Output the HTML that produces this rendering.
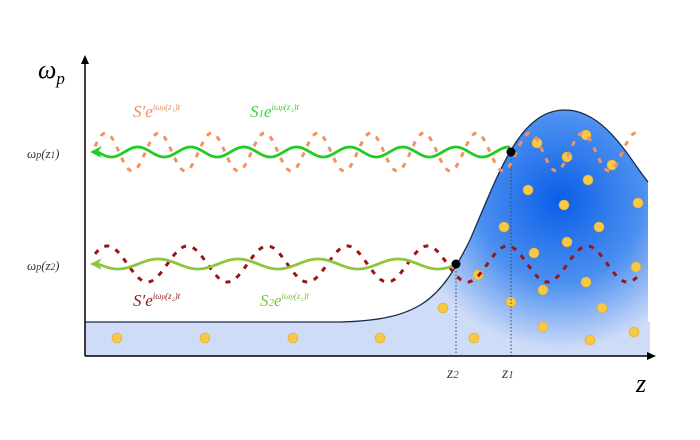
<!DOCTYPE html>
<html><head><meta charset="utf-8"><style>body{margin:0;background:#fff}svg{display:block}text{font-family:"Liberation Serif",serif;font-style:italic}</style></head>
<body>
<svg width="700" height="440" viewBox="0 0 700 440">
<defs>
<radialGradient id="g" cx="560" cy="200" r="150" gradientUnits="userSpaceOnUse">
<stop offset="0" stop-color="#0a5ee8"/><stop offset="0.55" stop-color="#4b8ff0"/><stop offset="1" stop-color="#cfdcf8"/></radialGradient>
</defs>
<path d="M85 322 H650 V356 H85Z" fill="#cfdcf8"/>
<path d="M85 322 L340 322 C420 320 440 300 470 240 C500 170 520 110 565 110 C605 110 630 160 648 182 L648 356 L85 356Z" fill="url(#g)"/>
<path d="M85 322 L340 322 C420 320 440 300 470 240 C500 170 520 110 565 110 C605 110 630 160 648 182" fill="none" stroke="#1a2a4a" stroke-width="1.3"/>
<g id="dots"></g>
<line x1="511" y1="152" x2="511" y2="356" stroke="#444" stroke-dasharray="1.5 2"/>
<line x1="456" y1="264" x2="456" y2="356" stroke="#444" stroke-dasharray="1.5 2"/>
<g id="waves"></g>
<circle cx="511" cy="152" r="4.5" fill="#000"/>
<circle cx="456" cy="264" r="4.5" fill="#000"/>
<line x1="85" y1="356" x2="650" y2="356" stroke="#000" stroke-width="1.5"/>
<path d="M656 356 L647 352 L647 360Z" fill="#000"/>
<line x1="85" y1="356" x2="85" y2="62" stroke="#000" stroke-width="1.5"/>
<path d="M85 55 L81 64 L89 64Z" fill="#000"/>
<text x="38" y="78" font-size="26">ω<tspan font-size="17" dy="6">p</tspan></text>
<text x="636" y="392" font-size="26">z</text>
<text x="27" y="158" font-size="13" fill="#333">ω<tspan font-size="10">p</tspan>(z<tspan font-size="9">1</tspan>)</text>
<text x="27" y="270" font-size="13" fill="#333">ω<tspan font-size="10">p</tspan>(z<tspan font-size="9">2</tspan>)</text>
<text x="447" y="378" font-size="16" fill="#444">z<tspan font-size="11">2</tspan></text>
<text x="502" y="378" font-size="16" fill="#444">z<tspan font-size="11">1</tspan></text>
<text x="133" y="117" font-size="17" fill="#f08a5d">S′e<tspan font-size="9" dy="-7">iω<tspan font-size="7">p</tspan>(z₁)t</tspan></text>
<text x="250" y="117" font-size="17" fill="#3fcf3f">S<tspan font-size="11">1</tspan>e<tspan font-size="9" dy="-7">iω<tspan font-size="7">p</tspan>(z₁)t</tspan></text>
<text x="133" y="306" font-size="17" fill="#8b1a1a">S′e<tspan font-size="9" dy="-7">iω<tspan font-size="7">p</tspan>(z₂)t</tspan></text>
<text x="260" y="306" font-size="17" fill="#7cc43a">S<tspan font-size="11">2</tspan>e<tspan font-size="9" dy="-7">iω<tspan font-size="7">p</tspan>(z₂)t</tspan></text>
</svg>
<script>
const NS="http://www.w3.org/2000/svg";
const dotsX=[117,205,293,380,537,586,567,612,588,528,564,638,504,599,567,534,478,586,636,543,511,443,602,543,474,590,634];
const dotsY=[338,338,338,338,143,135,157,165,180,190,205,203,227,227,242,253,275,282,267,290,302,308,308,327,338,340,332];
const dg=document.getElementById('dots');
for(let i=0;i<dotsX.length;i++){const c=document.createElementNS(NS,'circle');


c.setAttribute('cx',dotsX[i]);c.setAttribute('cy',dotsY[i]);c.setAttribute('r',5);c.setAttribute('fill','#f7c948');c.setAttribute('stroke','#e0a820');c.setAttribute('stroke-width','0.6');dg.appendChild(c);}
const wg=document.getElementById('waves');
function wave(name,y,x0,x1,amp,per,phase,color,w,dash){let d='';for(let x=x0;x<=x1;x+=1){const yy=y+amp*Math.sin(2*Math.PI*(x-x0)/per+phase);d+=(x===x0?'M':'L')+x+' '+yy.toFixed(2);}
const p=document.createElementNS(NS,'path');


p.setAttribute('d',d);p.setAttribute('fill','none');p.setAttribute('stroke',color);p.setAttribute('stroke-width',w);if(dash)p.setAttribute('stroke-dasharray',dash);wg.appendChild(p);}
wave('sprime-wave-1',152,95,640,-19,53,0.3,'#f5905f',3,'5 7');
wave('sprime-wave-2',264,95,640,-18,80,0.6,'#9b1515',3,'5 7');
wave('s1-wave',152,98,510,5,53,0,'#22cc22',2.8);
wave('s2-wave',264,98,455,5,80,0,'#8cc63f',2.8);
function arrow(name,x,y,c){const p=document.createElementNS(NS,'path');


p.setAttribute('d',`M${x} ${y} L${x+12} ${y-6} L${x+8} ${y} L${x+12} ${y+6}Z`);p.setAttribute('fill',c);wg.appendChild(p);}
arrow('s1-arrowhead',90,152,'#22cc22');arrow('s2-arrowhead',90,264,'#8cc63f');
</script>
</body></html>
